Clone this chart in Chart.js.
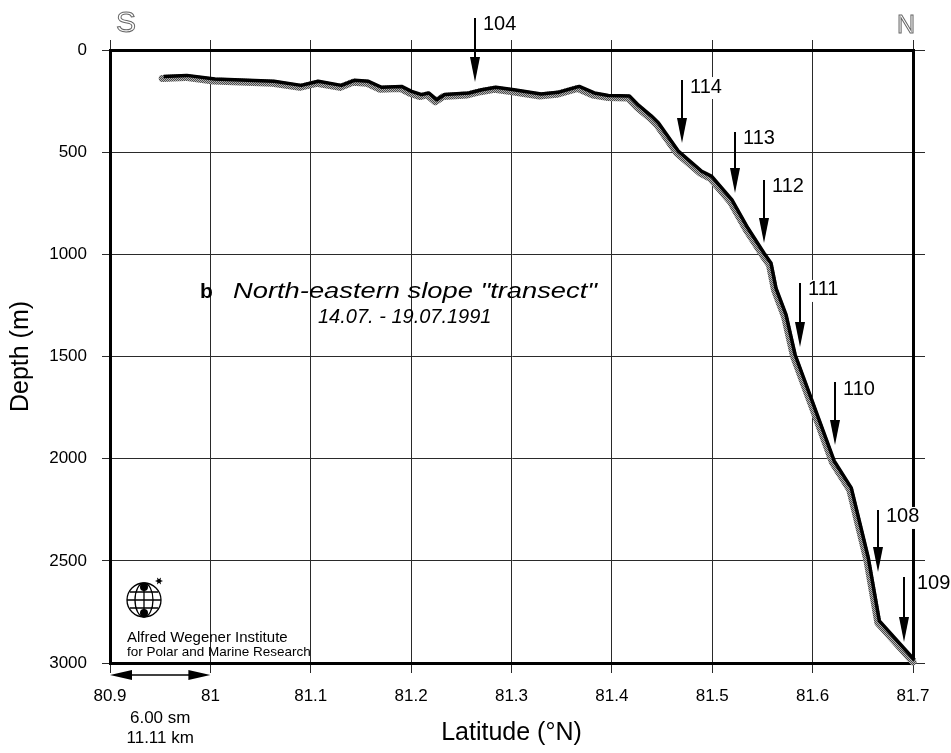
<!DOCTYPE html>
<html>
<head>
<meta charset="utf-8">
<title>North-eastern slope transect</title>
<script src="https://cdn.jsdelivr.net/npm/chart.js@4"></script>
<style>
  html, body { margin: 0; padding: 0; background: #fff; }
  #wrap { width: 951px; height: 753px; }
</style>
</head>
<body>
<div id="wrap"><canvas id="c" width="951" height="753"></canvas></div>
<script>
// Bottom profile along the transect: latitude (°N) and depth (m)
const latitude = [
  80.952, 80.975, 81.003, 81.062, 81.089, 81.106, 81.129, 81.142, 81.156, 81.169,
  81.189, 81.199, 81.209, 81.216, 81.224, 81.232, 81.256, 81.269, 81.283, 81.301,
  81.328, 81.345, 81.366, 81.381, 81.395, 81.416, 81.425, 81.438, 81.445, 81.465,
  81.488, 81.498, 81.518, 81.534, 81.550, 81.557, 81.562, 81.572, 81.581, 81.597,
  81.620, 81.637, 81.654, 81.665, 81.700
];
const depth = [
  139, 134, 152, 163, 183, 163, 183, 158, 163, 192,
  188, 212, 228, 220, 253, 228, 220, 204, 192, 204,
  225, 217, 188, 220, 232, 235, 280, 333, 367, 506,
  603, 628, 742, 881, 1003, 1052, 1175, 1305, 1500, 1713,
  2021, 2153, 2496, 2804, 2995
];

// Stations: name, latitude, arrow start and arrow tip depth (m)
const stationNames = ['104', '114', '113', '112', '111', '110', '108', '109'];
const stationLat   = [81.2635, 81.470, 81.5225, 81.5514, 81.587, 81.622, 81.665, 81.691];
const arrowTop     = [-157, 147, 401, 636, 1140, 1625, 2251, 2579];
const arrowTip     = [157, 455, 700, 945, 1453, 1933, 2555, 2897];

// Axis ticks
const xTicks = [80.9, 81.0, 81.1, 81.2, 81.3, 81.4, 81.5, 81.6, 81.7];
const xTickLabels = ['80.9', '81', '81.1', '81.2', '81.3', '81.4', '81.5', '81.6', '81.7'];
const yTicks = [0, 500, 1000, 1500, 2000, 2500, 3000];
const yTickLabels = ['0', '500', '1000', '1500', '2000', '2500', '3000'];

// Scale bar: one tenth of a degree of latitude
const scaleBarLat = [80.9, 81.0];
const scaleBarText = ['6.00 sm', '11.11 km'];

const FONT = '"Liberation Sans", Arial, Helvetica, sans-serif';

// station label placement: gap to the right of the arrow shaft, in px
const labelGap = { default: 8, '109': 13 };

// stippled grey for the lower edge of the bottom profile
function stipple() {
  const p = document.createElement('canvas');
  p.width = 2; p.height = 2;
  const g = p.getContext('2d');
  g.fillStyle = '#b4b4b4'; g.fillRect(0, 0, 2, 2);
  g.fillStyle = '#4a4a4a'; g.fillRect(0, 0, 1, 1); g.fillRect(1, 1, 1, 1);
  return g.createPattern(p, 'repeat');
}

const profile = latitude.map((v, i) => ({ x: v, y: depth[i] }));

function setTicks(values) {
  return scale => { scale.ticks = values.map(v => ({ value: v })); };
}

const gridCommon = { color: '#2a2a2a', lineWidth: 1, tickColor: '#2a2a2a' };
const borderCommon = { display: true, color: '#000', width: 3 };

const decor = {
  id: 'decor',
  beforeDatasetDraw(chart, args) {
    if (args.index === 1) { chart.ctx.save(); chart.ctx.translate(1.5, -2); }
  },
  afterDatasetDraw(chart, args) {
    if (args.index === 1) chart.ctx.restore();
  },
  afterDraw(chart) {
    const ctx = chart.ctx;
    const xs = chart.scales.x, ys = chart.scales.y;
    const area = chart.chartArea;
    ctx.save();

    // station arrows with their labels
    ctx.font = '20px ' + FONT;
    ctx.textBaseline = 'top';
    ctx.textAlign = 'left';
    stationNames.forEach((name, i) => {
      const px = Math.round(xs.getPixelForValue(stationLat[i]));
      const top = ys.getPixelForValue(arrowTop[i]);
      const tip = ys.getPixelForValue(arrowTip[i]);
      const head = 25;
      ctx.strokeStyle = '#000';
      ctx.fillStyle = '#000';
      ctx.lineWidth = 2;
      ctx.beginPath();
      ctx.moveTo(px, top);
      ctx.lineTo(px, tip - head + 2);
      ctx.stroke();
      ctx.beginPath();
      ctx.moveTo(px - 5, tip - head);
      ctx.lineTo(px + 5, tip - head);
      ctx.lineTo(px, tip);
      ctx.closePath();
      ctx.fill();
      const gap = labelGap[name] !== undefined ? labelGap[name] : labelGap.default;
      const w = ctx.measureText(name).width;
      ctx.fillStyle = '#fff';
      ctx.fillRect(px + gap - 2, top - 3, w + 4, 22);
      ctx.fillStyle = '#000';
      ctx.fillText(name, px + gap, top - 3);
    });

    // compass letters in outline
    ctx.textBaseline = 'alphabetic';
    ctx.textAlign = 'center';
    ctx.lineWidth = 1;
    ctx.strokeStyle = '#666';
    ctx.font = '30px ' + FONT;
    ctx.strokeText('S', 126, 32);
    ctx.font = '25px ' + FONT;
    ctx.strokeText('N', 906, 33);

    // panel title
    ctx.fillStyle = '#000';
    ctx.textAlign = 'left';
    ctx.font = 'bold 21px ' + FONT;
    ctx.fillText('b', 200, 298);
    ctx.font = 'italic 22px ' + FONT;
    const title = 'North-eastern slope "transect"';
    const tw = ctx.measureText(title).width;
    ctx.save();
    ctx.translate(233, 298);
    ctx.scale(364 / tw, 1);
    ctx.fillText(title, 0, 0);
    ctx.restore();
    ctx.font = 'italic 20px ' + FONT;
    ctx.fillText('14.07. - 19.07.1991', 318, 323);

    // institute emblem
    const cx = 144, cy = 600, r = 17;
    ctx.strokeStyle = '#000';
    ctx.lineWidth = 1.3;
    ctx.beginPath(); ctx.arc(cx, cy, r, 0, Math.PI * 2); ctx.stroke();
    ctx.beginPath(); ctx.ellipse(cx, cy, 9, r, 0, 0, Math.PI * 2); ctx.stroke();
    ctx.beginPath();
    ctx.moveTo(cx, cy - r); ctx.lineTo(cx, cy + r);
    ctx.moveTo(cx - r, cy); ctx.lineTo(cx + r, cy);
    ctx.moveTo(cx - 14, cy - 8); ctx.lineTo(cx + 14, cy - 8);
    ctx.moveTo(cx - 14, cy + 8); ctx.lineTo(cx + 14, cy + 8);
    ctx.stroke();
    ctx.fillStyle = '#000';
    ctx.beginPath(); ctx.arc(cx, cy - 13, 4, 0, Math.PI * 2); ctx.fill();
    ctx.beginPath(); ctx.arc(cx, cy + 13, 4, 0, Math.PI * 2); ctx.fill();
    // little star
    ctx.beginPath();
    for (let k = 0; k < 12; k++) {
      const a = k * Math.PI / 6;
      const rr = k % 2 === 0 ? 4 : 1.8;
      const sx = 159 + rr * Math.cos(a), sy = 581 + rr * Math.sin(a);
      if (k === 0) ctx.moveTo(sx, sy); else ctx.lineTo(sx, sy);
    }
    ctx.closePath(); ctx.fill();
    ctx.font = '15px ' + FONT;
    ctx.fillText('Alfred Wegener Institute', 127, 642);
    ctx.font = '13.5px ' + FONT;
    ctx.fillText('for Polar and Marine Research', 127, 656);

    // distance scale bar below the axis
    const x0 = xs.getPixelForValue(scaleBarLat[0]);
    const x1 = xs.getPixelForValue(scaleBarLat[1]);
    const yb = area.bottom + 12;
    ctx.lineWidth = 1.5;
    ctx.beginPath(); ctx.moveTo(x0 + 10, yb); ctx.lineTo(x1 - 10, yb); ctx.stroke();
    ctx.beginPath();
    ctx.moveTo(x0, yb); ctx.lineTo(x0 + 22, yb - 5); ctx.lineTo(x0 + 22, yb + 5); ctx.closePath();
    ctx.moveTo(x1, yb); ctx.lineTo(x1 - 22, yb - 5); ctx.lineTo(x1 - 22, yb + 5); ctx.closePath();
    ctx.fill();
    ctx.textAlign = 'center';
    ctx.font = '17px ' + FONT;
    const xm = (x0 + x1) / 2;
    ctx.fillText(scaleBarText[0], xm, 723);
    ctx.fillText(scaleBarText[1], xm, 743);

    ctx.restore();
  }
};

new Chart(document.getElementById('c'), {
  type: 'line',
  data: {
    datasets: [
      {
        // grey underlay of the profile
        data: profile,
        order: 2,
        borderColor: stipple(),
        borderWidth: 7,
        pointRadius: 0,
        tension: 0,
        clip: false,
        borderJoinStyle: 'round',
        borderCapStyle: 'round'
      },
      {
        // black upper edge of the profile
        data: profile,
        order: 1,
        borderColor: '#000',
        borderWidth: 3.5,
        pointRadius: 0,
        tension: 0,
        clip: false,
        borderJoinStyle: 'round'
      }
    ]
  },
  options: {
    responsive: false,
    animation: false,
    devicePixelRatio: 1,
    layout: { padding: 0, autoPadding: false },
    plugins: { legend: { display: false }, tooltip: { enabled: false }, title: { display: false } },
    scales: {
      x: {
        type: 'linear', position: 'bottom', min: 80.9, max: 81.7,
        afterBuildTicks: setTicks(xTicks),
        afterFit: s => { s.height = 90; },
        grid: Object.assign({ tickLength: 10 }, gridCommon),
        border: borderCommon,
        ticks: {
          padding: 13, color: '#000', font: { family: FONT, size: 17 },
          maxRotation: 0, autoSkip: false,
          callback: (v, i) => xTickLabels[i]
        },
        title: {
          display: true, text: 'Latitude (°N)', color: '#000',
          font: { family: FONT, size: 25, lineHeight: 1.2 },
          padding: { top: 0, bottom: 5 }
        }
      },
      xTop: {
        type: 'linear', position: 'top', min: 80.9, max: 81.7,
        afterBuildTicks: setTicks(xTicks),
        afterFit: s => { s.height = 50; },
        grid: Object.assign({ tickLength: 10, drawOnChartArea: false }, gridCommon),
        border: borderCommon,
        ticks: { display: false }
      },
      y: {
        type: 'linear', position: 'left', min: 0, max: 3000, reverse: true,
        afterBuildTicks: setTicks(yTicks),
        afterFit: s => { s.width = 110; },
        grid: Object.assign({ tickLength: 8 }, gridCommon),
        border: borderCommon,
        ticks: {
          padding: 15, color: '#000', font: { family: FONT, size: 17 },
          autoSkip: false,
          callback: (v, i) => yTickLabels[i]
        },
        title: {
          display: true, text: 'Depth (m)', color: '#000',
          font: { family: FONT, size: 25, lineHeight: 1.2 },
          padding: { top: 6, bottom: 0 }
        }
      },
      yRight: {
        type: 'linear', position: 'right', min: 0, max: 3000, reverse: true,
        afterBuildTicks: setTicks(yTicks),
        afterFit: s => { s.width = 38; },
        grid: Object.assign({ tickLength: 12, drawOnChartArea: false }, gridCommon),
        border: borderCommon,
        ticks: { display: false }
      }
    }
  },
  plugins: [decor]
});
</script>
</body>
</html>
